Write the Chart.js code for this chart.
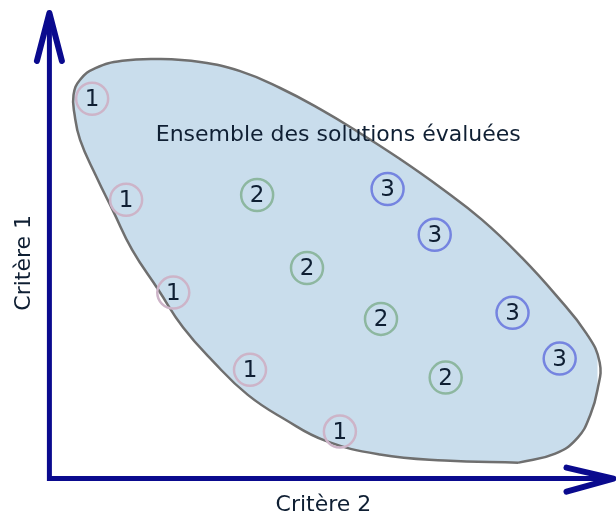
<!DOCTYPE html>
<html>
<head>
<meta charset="utf-8">
<script src="https://cdn.jsdelivr.net/npm/chart.js"></script>
<style>
  html, body { margin: 0; padding: 0; background: #fff; }
</style>
</head>
<body>
<canvas id="chart" width="616" height="515"></canvas>
<script>
// axis names and the label of the shaded zone
const xTitle = 'Critère 2';
const yTitle = 'Critère 1';
const zoneLabel = 'Ensemble des solutions évaluées';

// evaluated solutions, grouped by front number
const frontNames = ['1', '2', '3'];
const front1X = [0.78, 1.40, 2.26, 3.66, 5.30];
const front1Y = [8.80, 6.46, 4.31, 2.52, 1.09];
const front2X = [3.79, 4.70, 6.05, 7.23];
const front2Y = [6.57, 4.88, 3.70, 2.34];
const front3X = [6.17, 7.03, 8.45, 9.31];
const front3Y = [6.71, 5.65, 3.84, 2.78];

// outline of the set of evaluated solutions (closed)
const zoneX = [8.56, 9.23, 9.64, 9.87, 10.00, 10.04, 9.80, 9.25, 8.62, 7.89, 7.14, 6.39, 5.66, 4.94, 4.21, 3.48, 2.75, 2.02, 1.33, 0.84, 0.56, 0.44, 0.46, 0.56, 0.84, 1.17, 1.51, 1.99, 2.44, 2.99, 3.62, 4.30, 5.03, 6.03, 7.21, 8.56];
const zoneY = [0.37, 0.58, 0.95, 1.48, 2.06, 2.69, 3.36, 4.24, 5.12, 6.00, 6.74, 7.41, 8.01, 8.56, 9.05, 9.44, 9.65, 9.72, 9.68, 9.51, 9.24, 8.89, 8.43, 7.85, 7.04, 6.18, 5.30, 4.37, 3.50, 2.71, 1.94, 1.37, 0.88, 0.56, 0.42, 0.37];

const xRange = [0, 10];
const yRange = [0, 10];

const toPoints = (xs, ys) => xs.map((x, i) => ({ x: x, y: ys[i] }));

const fontFamily = '"DejaVu Sans", Verdana, sans-serif';
const textColor = '#0f1f33';
const axisColor = '#0a0a8e';
const ringColors = ['#cdb4c8', '#8db7a0', '#7584e0'];
const zoneLabelPos = { x: 5.27, y: 7.95 };

// arrows go a bit past the end of each scale
const arrowExtraX = 16;
const arrowExtraY = 34;

const ring = (i, xs, ys) => ({
  label: frontNames[i],
  data: toPoints(xs, ys),
  pointRadius: 16,
  pointBorderWidth: 2.5,
  pointBackgroundColor: 'rgba(0,0,0,0)',
  pointBorderColor: ringColors[i],
  order: 0
});

// numbers inside the rings, zone caption and the two axis arrows
const decorations = {
  id: 'decorations',
  afterDatasetsDraw(chart) {
    const ctx = chart.ctx;
    ctx.save();
    ctx.fillStyle = textColor;
    ctx.textAlign = 'center';
    ctx.textBaseline = 'middle';
    ctx.font = '23px ' + fontFamily;
    chart.data.datasets.forEach((ds, i) => {
      if (!frontNames.includes(ds.label)) return;
      chart.getDatasetMeta(i).data.forEach(pt => {
        ctx.fillText(ds.label, pt.x, pt.y + 1);
      });
    });
    ctx.font = '22px ' + fontFamily;
    const xs = chart.scales.x, ys = chart.scales.y;
    ctx.fillText(zoneLabel, xs.getPixelForValue(zoneLabelPos.x), ys.getPixelForValue(zoneLabelPos.y));

    const x0 = xs.getPixelForValue(xRange[0]);
    const y0 = ys.getPixelForValue(yRange[0]);
    const xTip = xs.getPixelForValue(xRange[1]) + arrowExtraX;
    const yTip = ys.getPixelForValue(yRange[1]) - arrowExtraY;
    ctx.strokeStyle = axisColor;
    ctx.lineWidth = 5;
    ctx.lineJoin = 'miter';
    ctx.lineCap = 'butt';
    ctx.beginPath();
    ctx.moveTo(x0, yTip + 2);
    ctx.lineTo(x0, y0);
    ctx.lineTo(xTip - 2, y0);
    ctx.stroke();
    ctx.lineWidth = 6;
    ctx.lineCap = 'round';
    ctx.lineJoin = 'round';
    ctx.beginPath();
    ctx.moveTo(x0 - 12.5, yTip + 48);
    ctx.lineTo(x0, yTip);
    ctx.lineTo(x0 + 12.5, yTip + 48);
    ctx.moveTo(xTip - 47, y0 - 11);
    ctx.lineTo(xTip, y0);
    ctx.lineTo(xTip - 47, y0 + 13);
    ctx.stroke();
    ctx.restore();
  }
};

const axisTitle = (text, padding) => ({
  display: true,
  text: text,
  color: textColor,
  font: { family: fontFamily, size: 22 },
  padding: padding
});

new Chart(document.getElementById('chart'), {
  type: 'scatter',
  data: {
    datasets: [
      ring(0, front1X, front1Y),
      ring(1, front2X, front2Y),
      ring(2, front3X, front3Y),
      {
        type: 'line',
        label: 'zone',
        data: toPoints(zoneX, zoneY),
        showLine: true,
        fill: 'shape',
        tension: 0.45,
        capBezierPoints: false,
        backgroundColor: '#c9ddec',
        borderColor: '#6f6f6f',
        borderWidth: 2.5,
        pointRadius: 0,
        clip: false,
        order: 10
      }
    ]
  },
  options: {
    responsive: false,
    animation: false,
    events: [],
    layout: { padding: { top: 47, right: 18, left: 0, bottom: 0 } },
    plugins: { legend: { display: false }, tooltip: { enabled: false } },
    scales: {
      x: {
        type: 'linear',
        min: xRange[0],
        max: xRange[1],
        grid: { display: false, drawTicks: false },
        border: { display: false },
        ticks: { display: false },
        title: axisTitle(xTitle, { top: 13, bottom: -3 })
      },
      y: {
        type: 'linear',
        min: yRange[0],
        max: yRange[1],
        grid: { display: false, drawTicks: false },
        border: { display: false },
        ticks: { display: false },
        title: axisTitle(yTitle, { top: 11, bottom: 12 })
      }
    }
  },
  plugins: [decorations]
});
</script>
</body>
</html>
